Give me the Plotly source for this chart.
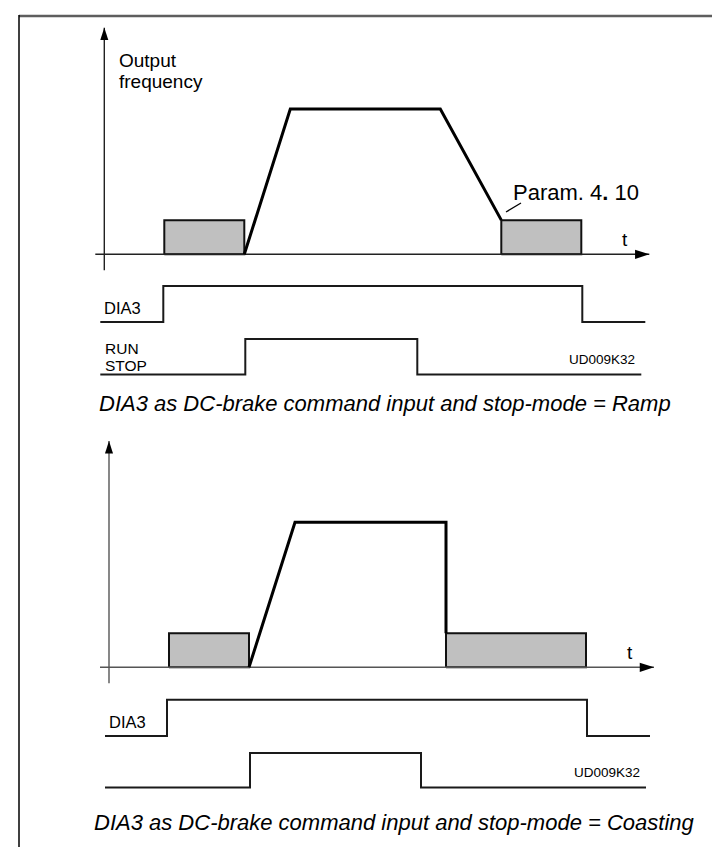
import plotly.graph_objects as go

W, H = 720, 847

# ---------------- data (time in arbitrary units, frequency in % of max) ----------------
# Scenario 1: stop-mode = Ramp
ramp_profile_t = [14.0, 18.6, 33.6, 39.7]
ramp_profile_f = [0, 100, 100, 23.5]
ramp_brake_start = [6.0, 39.7]
ramp_brake_end = [14.0, 47.7]
ramp_dia3_edges = [5.9, 47.8]
ramp_run_edges = [14.1, 31.3]

# Scenario 2: stop-mode = Coasting
coast_profile_t = [14.0, 18.6, 33.7, 33.7]
coast_profile_f = [0, 100, 100, 23.5]
coast_brake_start = [6.0, 33.7]
coast_brake_end = [14.0, 47.7]
coast_dia3_edges = [5.8, 47.8]
coast_run_edges = [14.1, 31.2]

dc_brake_level = 23.5          # Param. 4.10 frequency level
signal_span = [-0.4, 54.1]     # DIA3 trace extent
run_span = [-0.4, 53.7]        # RUN/STOP trace extent
time_axis = [-0.9, 54.5]
freq_axis = [-11, 156]

captions = ["DIA3 as DC-brake command input and stop-mode = Ramp",
            "DIA3 as DC-brake command input and stop-mode = Coasting"]
fig_code = "UD009K32"

FONT = "Liberation Sans, Arial, sans-serif"

fig = go.Figure()


def xrange_for(origin_px, ppu=10.0):
    return [(0 - origin_px) / ppu, (W - origin_px) / ppu]


def ycfg(zero_px, ppu, top_px, bot_px):
    return dict(domain=[(H - bot_px) / H, (H - top_px) / H],
                range=[(zero_px - bot_px) / ppu, (zero_px - top_px) / ppu],
                visible=False, fixedrange=True)


def step(edges, span):
    return ([span[0], edges[0], edges[0], edges[1], edges[1], span[1]],
            [0, 0, 1, 1, 0, 0])


def diagram(xa, yf, yd, yr, prof_t, prof_f, b_start, b_end, dia3, run,
            axis_color, with_run_label, with_param):
    # brake windows
    for s, e in zip(b_start, b_end):
        fig.add_trace(go.Scatter(x=[s, e, e, s, s],
                                 y=[0, 0, dc_brake_level, dc_brake_level, 0],
                                 xaxis=xa, yaxis=yf, mode="lines", fill="toself",
                                 fillcolor="#c0c0c0",
                                 line=dict(color="#111111", width=2)))
    # axes
    fig.add_trace(go.Scatter(x=time_axis, y=[0, 0], xaxis=xa, yaxis=yf, mode="lines",
                             line=dict(color=axis_color, width=1.4)))
    fig.add_trace(go.Scatter(x=[0, 0], y=freq_axis, xaxis=xa, yaxis=yf, mode="lines",
                             line=dict(color=axis_color, width=1.4)))
    fig.add_trace(go.Scatter(x=[time_axis[1]], y=[0], xaxis=xa, yaxis=yf, mode="markers",
                             marker=dict(symbol="arrow", angle=90, size=15, color="#000000",
                                         line=dict(width=0))))
    fig.add_trace(go.Scatter(x=[0], y=[freq_axis[1]], xaxis=xa, yaxis=yf, mode="markers",
                             marker=dict(symbol="arrow", angle=0, size=13, color="#000000",
                                         line=dict(width=0))))
    # frequency profile
    fig.add_trace(go.Scatter(x=prof_t, y=prof_f, xaxis=xa, yaxis=yf, mode="lines",
                             line=dict(color="#000000", width=3)))
    # digital signals
    sx, sy = step(dia3, signal_span)
    fig.add_trace(go.Scatter(x=sx, y=sy, xaxis=xa, yaxis=yd, mode="lines",
                             line=dict(color="#1a1a1a", width=2)))
    rx, ry = step(run, run_span)
    fig.add_trace(go.Scatter(x=rx, y=ry, xaxis=xa, yaxis=yr, mode="lines",
                             line=dict(color="#1a1a1a", width=2)))

    ann = []
    ann.append(dict(x=52.1, y=10.5, xref=xa, yref=yf, text="t", showarrow=False,
                    font=dict(size=19, family=FONT, color="#000")))
    ann.append(dict(x=-0.2, y=0.38, xref=xa, yref=yd, text="DIA3", showarrow=False,
                    xanchor="left", yanchor="middle",
                    font=dict(size=16.5, family=FONT, color="#000")))
    ann.append(dict(x=53.3, y=0.43, xref=xa, yref=yr, text=fig_code, showarrow=False,
                    xanchor="right", yanchor="middle",
                    font=dict(size=13.5, family=FONT, color="#000")))
    if with_run_label:
        ann.append(dict(x=-0.13, y=0.745, xref=xa, yref=yr, text="RUN", showarrow=False,
                        xanchor="left", yanchor="middle",
                        font=dict(size=15.5, family=FONT, color="#000")))
        ann.append(dict(x=-0.13, y=0.25, xref=xa, yref=yr, text="STOP", showarrow=False,
                        xanchor="left", yanchor="middle",
                        font=dict(size=15.5, family=FONT, color="#000")))
    if with_param:
        bt = prof_t[-1]
        fig.add_trace(go.Scatter(x=[bt + 0.47, bt + 1.97],
                                 y=[dc_brake_level + 5.6, dc_brake_level + 11.8],
                                 xaxis=xa, yaxis=yf, mode="lines",
                                 line=dict(color="#000", width=1.3)))
        ann.append(dict(x=bt + 1.0, y=dc_brake_level + 19.1, xref=xa, yref=yf,
                        text="Param. 4<b>.</b> 10", showarrow=False,
                        xanchor="left", yanchor="middle",
                        font=dict(size=22, family=FONT, color="#000")))
        ann.append(dict(x=1.3, y=133.7, xref=xa, yref=yf, text="Output", showarrow=False,
                        xanchor="left", yanchor="middle",
                        font=dict(size=19, family=FONT, color="#000")))
        ann.append(dict(x=1.3, y=118.9, xref=xa, yref=yf, text="frequency", showarrow=False,
                        xanchor="left", yanchor="middle",
                        font=dict(size=19, family=FONT, color="#000")))
    return ann


annotations = []
annotations += diagram("x", "y", "y2", "y3", ramp_profile_t, ramp_profile_f,
                       ramp_brake_start, ramp_brake_end, ramp_dia3_edges, ramp_run_edges,
                       "#222222", True, True)
annotations += diagram("x2", "y4", "y5", "y6", coast_profile_t, coast_profile_f,
                       coast_brake_start, coast_brake_end, coast_dia3_edges, coast_run_edges,
                       "#555555", False, False)

annotations.append(dict(x=89 / W, y=1 - 395.4 / H, xref="paper", yref="paper",
                        text="<i>" + captions[0] + "</i>", showarrow=False,
                        xanchor="left", yanchor="middle",
                        font=dict(size=22, family=FONT, color="#000")))
annotations.append(dict(x=84 / W, y=1 - 814.4 / H, xref="paper", yref="paper",
                        text="<i>" + captions[1] + "</i>", showarrow=False,
                        xanchor="left", yanchor="middle",
                        font=dict(size=22, family=FONT, color="#000")))

shapes = [
    dict(type="line", xref="paper", yref="paper", x0=11 / W, x1=1, y0=1 - 8 / H, y1=1 - 8 / H,
         line=dict(color="#5e5e5e", width=2.5)),
    dict(type="line", xref="paper", yref="paper", x0=11 / W, x1=11 / W, y0=0, y1=1 - 7 / H,
         line=dict(color="#000000", width=1.5)),
]

fig.update_layout(
    width=W, height=H, autosize=False,
    margin=dict(l=0, r=0, t=0, b=0),
    paper_bgcolor="white", plot_bgcolor="rgba(0,0,0,0)",
    showlegend=False, hovermode=False,
    xaxis=dict(domain=[0, 1], range=xrange_for(96.3), visible=False, fixedrange=True, anchor="y"),
    xaxis2=dict(domain=[0, 1], range=xrange_for(101.0), visible=False, fixedrange=True, anchor="y4"),
    yaxis=dict(**ycfg(246.3, 1.453, 12, 268), anchor="x"),
    yaxis2=dict(**ycfg(314.0, 36.0, 268, 322), anchor="x"),
    yaxis3=dict(**ycfg(366.5, 35.5, 322, 376), anchor="x"),
    yaxis4=dict(**ycfg(659.3, 1.45, 425, 681), anchor="x2"),
    yaxis5=dict(**ycfg(728.0, 36.3, 681, 737), anchor="x2"),
    yaxis6=dict(**ycfg(779.5, 34.5, 737, 792), anchor="x2"),
    annotations=annotations,
    shapes=shapes,
)

fig.write_html("out.html")
